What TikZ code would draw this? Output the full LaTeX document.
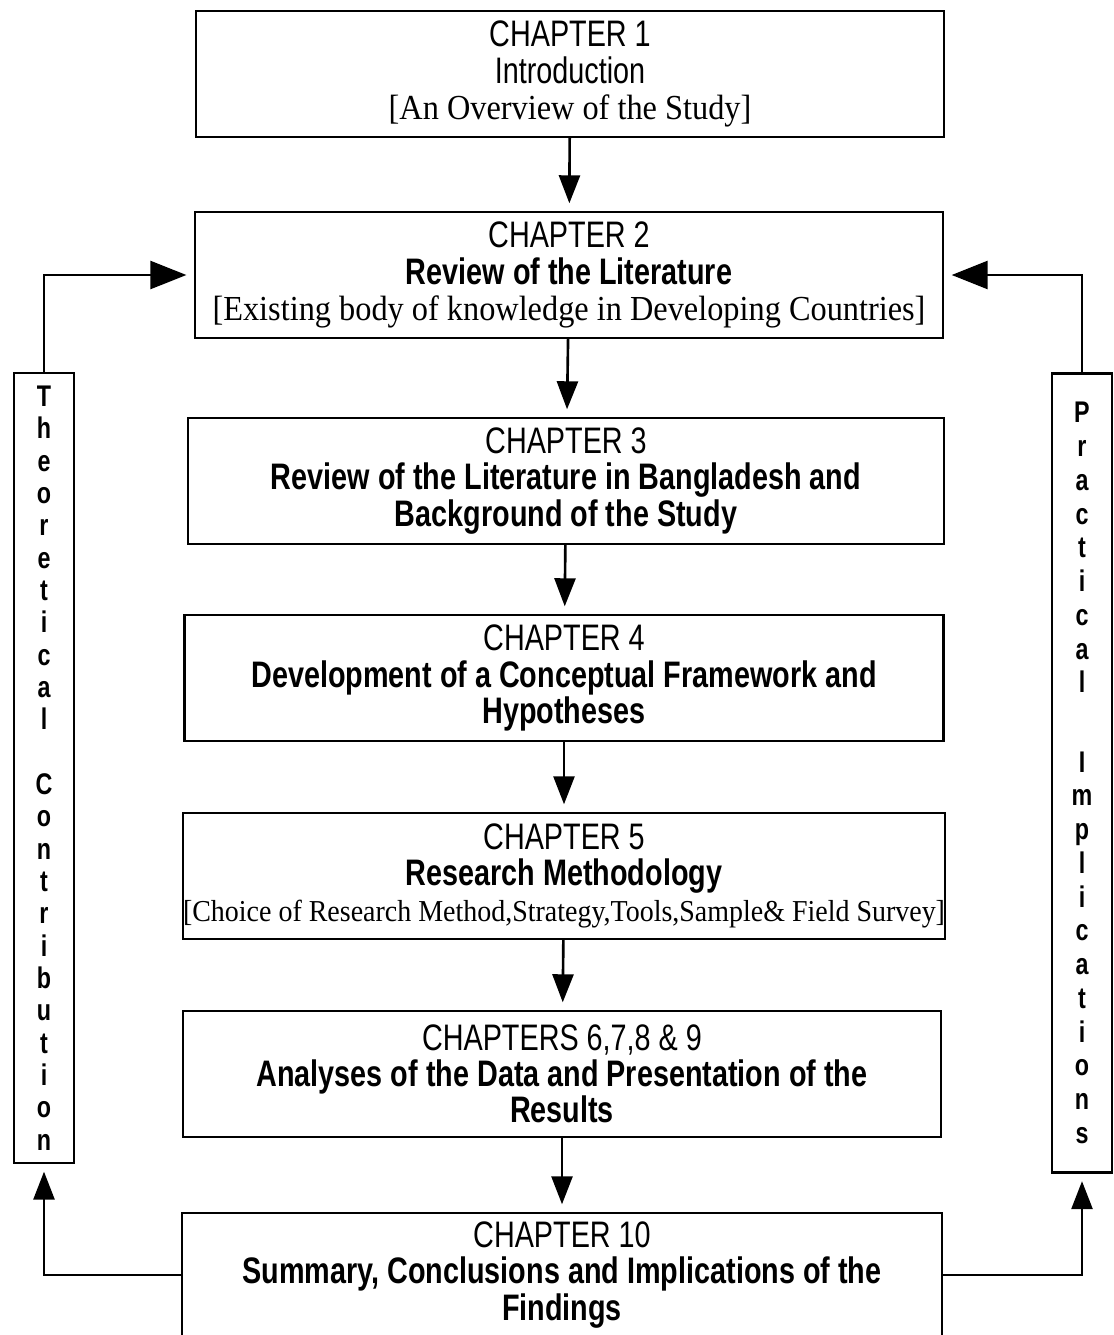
\documentclass[tikz,border=0pt]{standalone}
\usepackage{fontspec}
\setmainfont{Liberation Serif}
\newfontfamily\headfont[FakeStretch=0.78]{Liberation Sans}
\newfontfamily\bodyfont[FakeStretch=0.92]{Liberation Serif}
\usetikzlibrary{arrows.meta}

\begin{document}
\begin{tikzpicture}[x=0.02cm, y=-0.02cm,
  chapbox/.style={rectangle, draw, line width=1.4pt, align=center, inner sep=0pt,
                  minimum height=2.52cm, font=\fontsize{21}{20.6}\selectfont},
  sidebox/.style={rectangle, draw, line width=1.4pt, align=center, inner sep=0pt,
                  minimum width=1.2cm, font=\headfont\bfseries\fontsize{17}{18.4}\selectfont},
  arrow/.style={-{Triangle[length=0.56cm, width=0.42cm]}, line width=1.5pt, shorten >=1.5mm},
  bigarrow/.style={arrow, -{Triangle[length=0.72cm, width=0.56cm]}},
]
  \path[use as bounding box, clip] (0,0) rectangle (1113,1335);
  % chapters down the middle
  \node[chapbox, minimum width=14.96cm] (c1) at (570,74)
    {{\headfont CHAPTER\ 1}\\{\headfont Introduction}\\{\bodyfont\fontsize{20}{20.6}\selectfont [An Overview of the Study]}};
  \node[chapbox, minimum width=14.96cm] (c2) at (569,275)
    {{\headfont CHAPTER\ 2}\\{\headfont\bfseries Review of the Literature}\\
     {\bodyfont\fontsize{20}{20.6}\selectfont [Existing body of knowledge in Developing Countries]}};
  \node[chapbox, minimum width=15.12cm] (c3) at (566,481)
    {{\headfont CHAPTER 3}\\{\headfont\bfseries Review of the Literature in Bangladesh and}\\
     {\headfont\bfseries Background of the Study}};
  \node[chapbox, minimum width=15.18cm] (c4) at (564,678)
    {{\headfont CHAPTER 4}\\{\headfont\bfseries Development of a Conceptual Framework and}\\
     {\headfont\bfseries Hypotheses}};
  \node[chapbox, minimum width=15.18cm] (c5) at (564,876)
    {{\headfont CHAPTER 5}\\{\headfont\bfseries Research Methodology}\\
     {\bodyfont\fontsize{17.3}{20.6}\selectfont [Choice of Research Method,Strategy,Tools,Sample\& Field Survey]}};
  \node[chapbox, minimum width=15.16cm] (c6) at (562,1074)
    {{\headfont CHAPTERS\ 6,7,8 \& 9}\\{\headfont\bfseries Analyses of the Data and Presentation of the}\\
     {\headfont\bfseries Results}};
  \node[chapbox, minimum width=15.2cm, minimum height=2.48cm] (c10) at (562,1275)
    {{\headfont CHAPTER 10}\\{\headfont\bfseries Summary, Conclusions and Implications of the}\\
     {\headfont\bfseries Findings}};
  % side boxes
  \node[sidebox, minimum height=15.8cm] (theo) at (44,768)
    {T\\h\\e\\o\\r\\e\\t\\i\\c\\a\\l\\[18.4pt]C\\o\\n\\t\\r\\i\\b\\u\\t\\i\\o\\n};
  \node[sidebox, minimum height=15.98cm, font=\headfont\bfseries\fontsize{17}{19.2}\selectfont] (prac) at (1082,773)
    {P\\r\\a\\c\\t\\i\\c\\a\\l\\[26pt]I\\m\\p\\l\\i\\c\\a\\t\\i\\o\\n\\s};
  % flow
  \draw[arrow] (c1) -- (c2);
  \draw[arrow] (c2) -- (c3);
  \draw[arrow] (c3) -- (c4);
  \draw[arrow] (c4) -- (c5);
  \draw[arrow] (c5) -- (c6);
  \draw[arrow] (c6) -- (c10);
  % feedback loops
  \draw[arrow] (c10.west) -| (theo.south);
  \draw[arrow] (c10.east) -| (prac.south);
  \draw[bigarrow] (theo.north) |- (c2.west);
  \draw[bigarrow] (prac.north) |- (c2.east);
\end{tikzpicture}
\end{document}
